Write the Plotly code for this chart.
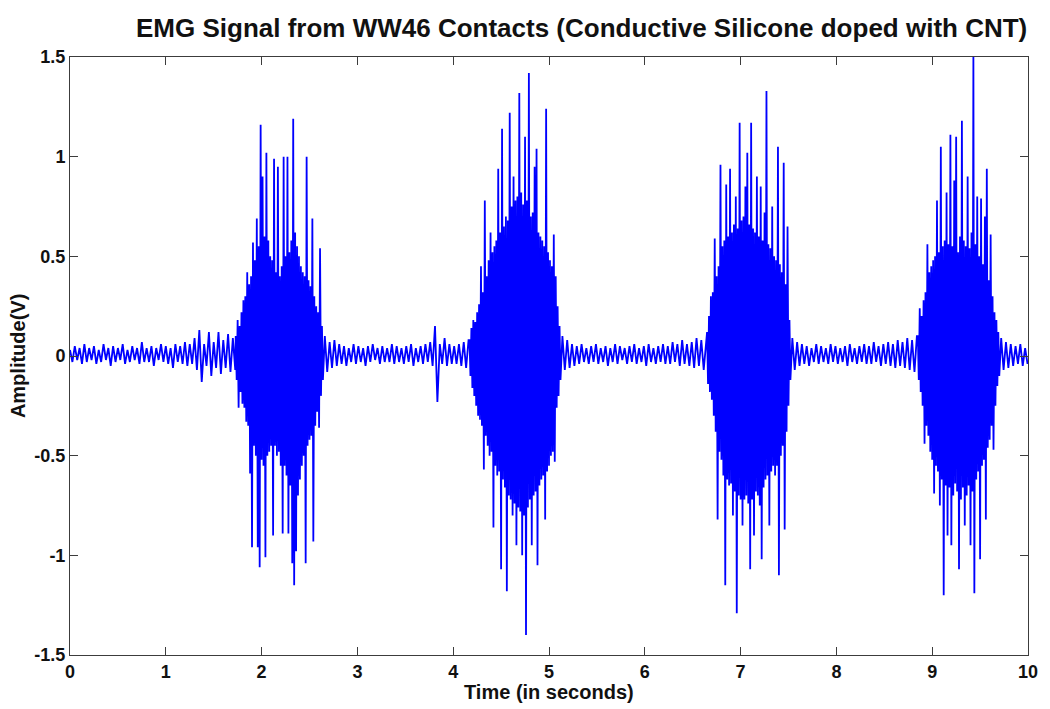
import numpy as np
import plotly.graph_objects as go

# ---------------- data ----------------
# Each segment: start time (s), sampling step (s), amplitude values (V)

base_0_start, base_0_step = 0.0, 0.025
base_0 = [
    0.03, -0.03, 0.05, -0.02, 0.04, -0.04, 0.06, -0.03, 0.04, -0.02,
    0.05, -0.04, 0.03, -0.03, 0.06, -0.02, 0.04, -0.05, 0.05, -0.03,
    0.04, -0.02, 0.06, -0.04, 0.03, -0.03, 0.05, -0.02, 0.04, -0.04,
    0.07, -0.03, 0.04, -0.03, 0.05, -0.05, 0.04, -0.02, 0.06, -0.03,
    0.05, -0.04, 0.04, -0.06, 0.06, -0.03, 0.05, -0.04, 0.07, -0.05,
    0.06, -0.04, 0.09, -0.07, 0.13, -0.13, 0.06, -0.05, 0.12, -0.10,
    0.07, -0.06, 0.12, -0.09, 0.08, -0.06, 0.11, -0.08, 0.09, -0.07,
]

burst_1_start, burst_1_step = 1.73, 0.01
burst_1 = [
    0.10, -0.12, 0.18, -0.26, 0.15, -0.18, 0.22, -0.24, 0.28, -0.26,
    0.30, -0.33, 0.42, -0.35, 0.36, -0.59, 0.40, -0.96, 0.57, -0.45,
    0.48, -0.50, 0.69, -0.96, 0.55, -1.06, 1.16, -0.52, 0.90, -0.55,
    0.60, -1.01, 1.02, -0.50, 0.58, -0.48, 0.50, -0.45, 0.48, -0.90,
    0.99, -0.45, 0.42, -0.50, 0.95, -0.48, 0.40, -0.55, 0.45, -0.89,
    1.00, -0.55, 0.50, -0.60, 1.00, -0.89, 0.52, -0.65, 0.58, -1.04,
    1.19, -1.15, 0.62, -0.98, 0.55, -0.70, 0.50, -0.62, 0.45, -0.55,
    0.42, -0.50, 0.40, -1.04, 1.00, -0.45, 0.38, -0.42, 0.35, -0.40,
    0.69, -0.93, 0.30, -0.35, 0.25, -0.28, 0.22, -0.36, 0.54, -0.20,
    0.15, -0.12,
]

base_1_start, base_1_step = 2.66, 0.025
base_1 = [
    0.10, -0.08, 0.07, -0.06, 0.08, -0.05, 0.06, -0.04, 0.05, -0.05,
    0.04, -0.03, 0.06, -0.04, 0.05, -0.03, 0.04, -0.05, 0.05, -0.03,
    0.06, -0.02, 0.04, -0.04, 0.05, -0.03, 0.04, -0.03, 0.06, -0.04,
    0.05, -0.03, 0.04, -0.04, 0.05, -0.03, 0.06, -0.05, 0.04, -0.03,
    0.05, -0.04, 0.06, -0.03, 0.07, -0.05, 0.15, -0.23, 0.06, -0.04,
    0.09, -0.05, 0.06, -0.04, 0.05, -0.04, 0.06, -0.05, 0.07, -0.06,
    0.08,
]

burst_2_start, burst_2_step = 4.17, 0.01
burst_2 = [
    0.08, -0.10, 0.14, -0.16, 0.18, -0.20, 0.17, -0.25, 0.22, -0.30,
    0.26, -0.32, 0.45, -0.35, 0.32, -0.57, 0.78, -0.40, 0.40, -0.45,
    0.48, -0.50, 0.62, -0.48, 0.52, -0.86, 0.55, -0.55, 0.58, -0.60,
    0.94, -0.58, 0.62, -1.07, 1.14, -0.62, 0.65, -0.66, 0.70, -1.18,
    0.68, -0.70, 1.22, -0.72, 0.75, -0.80, 0.90, -0.74, 0.78, -0.95,
    0.80, -0.76, 1.32, -0.78, 0.82, -1.00, 0.76, -0.80, 1.10, -1.40,
    0.78, -0.76, 1.42, -0.72, 0.70, -0.95, 0.72, -0.70, 0.95, -0.68,
    1.04, -1.05, 0.62, -0.65, 0.60, -0.62, 0.58, -0.60, 0.55, -0.82,
    1.24, -0.58, 0.52, -0.55, 0.48, -0.50, 0.45, -0.48, 0.61, -0.53,
    0.40, -0.26, 0.25, -0.20, 0.15, -0.12,
]

base_2_start, base_2_step = 5.14, 0.025
base_2 = [
    0.10, -0.07, 0.08, -0.06, 0.06, -0.05, 0.05, -0.04, 0.06, -0.03,
    0.04, -0.04, 0.05, -0.03, 0.06, -0.04, 0.04, -0.03, 0.05, -0.05,
    0.04, -0.03, 0.06, -0.04, 0.05, -0.02, 0.04, -0.04, 0.05, -0.03,
    0.06, -0.04, 0.04, -0.03, 0.05, -0.05, 0.06, -0.03, 0.04, -0.04,
    0.05, -0.03, 0.06, -0.04, 0.05, -0.04, 0.07, -0.03, 0.06, -0.05,
    0.08, -0.04, 0.06, -0.05, 0.07, -0.06, 0.09, -0.05, 0.08, -0.07,
    0.10,
]

burst_3_start, burst_3_step = 6.65, 0.01
burst_3 = [
    0.12, -0.14, 0.20, -0.18, 0.30, -0.22, 0.32, -0.30, 0.59, -0.38,
    0.40, -0.82, 0.45, -0.48, 0.96, -0.52, 0.55, -0.60, 0.58, -1.15,
    0.86, -0.62, 0.60, -0.65, 0.94, -0.64, 0.62, -0.80, 0.66, -0.68,
    0.80, -1.29, 0.64, -0.70, 1.17, -0.72, 0.68, -0.85, 0.70, -0.72,
    0.85, -0.70, 1.02, -0.74, 0.66, -1.07, 1.17, -0.72, 0.64, -0.90,
    0.62, -0.68, 0.90, -0.70, 0.60, -0.75, 0.85, -1.02, 0.58, -0.66,
    0.72, -0.62, 1.33, -0.60, 0.56, -0.85, 0.54, -0.58, 0.75, -0.55,
    0.50, -0.60, 0.48, -0.55, 1.05, -1.10, 0.46, -0.50, 0.42, -0.45,
    0.97, -0.87, 0.36, -0.38, 0.65, -0.25, 0.18, -0.12,
]

base_3_start, base_3_step = 7.54, 0.025
base_3 = [
    0.09, -0.07, 0.07, -0.05, 0.06, -0.04, 0.05, -0.05, 0.04, -0.03,
    0.06, -0.04, 0.05, -0.03, 0.04, -0.04, 0.06, -0.03, 0.05, -0.04,
    0.04, -0.03, 0.05, -0.05, 0.06, -0.03, 0.04, -0.04, 0.05, -0.03,
    0.06, -0.04, 0.05, -0.04, 0.07, -0.03, 0.05, -0.05, 0.06, -0.04,
    0.07, -0.05, 0.06, -0.06, 0.08, -0.05, 0.07, -0.06, 0.09, -0.07,
    0.08, -0.08, 0.10,
]

burst_4_start, burst_4_step = 8.85, 0.01
burst_4 = [
    0.10, -0.12, 0.24, -0.18, 0.20, -0.25, 0.28, -0.44, 0.32, -0.35,
    0.56, -0.40, 0.42, -0.48, 0.45, -0.52, 0.48, -0.69, 0.50, -0.55,
    0.78, -0.58, 0.52, -0.75, 1.05, -0.62, 0.55, -1.20, 0.58, -0.65,
    0.82, -0.90, 0.56, -0.66, 1.11, -0.95, 0.55, -0.70, 0.88, -0.64,
    1.10, -0.68, 0.52, -1.07, 0.60, -0.72, 1.18, -0.66, 0.58, -0.85,
    0.55, -0.70, 0.90, -0.65, 0.54, -0.95, 0.62, -0.68, 1.50, -1.19,
    0.56, -0.62, 0.80, -0.58, 0.50, -1.02, 0.79, -0.55, 0.46, -0.52,
    0.70, -0.82, 0.94, -0.46, 0.38, -0.42, 0.61, -0.35, 0.30, -0.47,
    0.22, -0.25, 0.18, -0.15, 0.12, -0.10,
]

base_4_start, base_4_step = 9.72, 0.025
base_4 = [0.09, -0.07, 0.07, -0.06, 0.06, -0.05, 0.05, -0.04, 0.06, -0.05, 0.04, -0.04]

x_tick_values = [0, 1, 2, 3, 4, 5, 6, 7, 8, 9, 10]
y_tick_values = [-1.5, -1.0, -0.5, 0.0, 0.5, 1.0, 1.5]
y_tick_labels = ["-1.5", "-1", "-0.5", "0", "0.5", "1", "1.5"]

# ---------------- assemble the sampled signal ----------------
segments = [
    (base_0_start, base_0_step, base_0),
    (burst_1_start, burst_1_step, burst_1),
    (base_1_start, base_1_step, base_1),
    (burst_2_start, burst_2_step, burst_2),
    (base_2_start, base_2_step, base_2),
    (burst_3_start, burst_3_step, burst_3),
    (base_3_start, base_3_step, base_3),
    (burst_4_start, burst_4_step, burst_4),
    (base_4_start, base_4_step, base_4),
]
time_s, amp_v = [], []
for start, step, vals in segments:
    for i, val in enumerate(vals):
        time_s.append(round(start + i * step, 4))
        amp_v.append(val)

FONT = "Liberation Sans, Arial, sans-serif"

fig = go.Figure(
    go.Scatter(
        x=time_s, y=amp_v, mode="lines",
        line=dict(color="#0000FF", width=1.8),
        hoverinfo="skip", showlegend=False,
    )
)

axis_common = dict(
    showgrid=False, zeroline=False, showline=True, linecolor="#3c3c3c", linewidth=1,
    mirror="ticks", ticks="inside", ticklen=8, tickcolor="#3c3c3c", tickwidth=1,
    tickfont=dict(family=FONT, size=18, color="#111111", weight="bold"),
)

fig.update_layout(
    width=1050, height=709,
    margin=dict(l=70, r=20, t=57, b=54),
    paper_bgcolor="white", plot_bgcolor="white",
    xaxis=dict(range=[0, 10], tickvals=x_tick_values, **axis_common),
    yaxis=dict(range=[-1.5, 1.5], tickvals=y_tick_values, ticktext=y_tick_labels, **axis_common),
    annotations=[
        dict(text="<b>EMG Signal from WW46 Contacts (Conductive Silicone doped with CNT)</b>",
             xref="paper", yref="paper", x=(583 - 70) / 960, y=1 + 29 / 598,
             xanchor="center", yanchor="middle",
             showarrow=False, font=dict(family=FONT, size=26, color="#111111")),
        dict(text="<b>Time (in seconds)</b>", xref="paper", yref="paper",
             x=0.5, y=-37 / 598, xanchor="center", yanchor="middle",
             showarrow=False, font=dict(family=FONT, size=20, color="#111111")),
        dict(text="<b>Amplitude(V)</b>", xref="paper", yref="paper", textangle=-90,
             x=-52 / 960, y=0.5, xanchor="center", yanchor="middle",
             showarrow=False, font=dict(family=FONT, size=20, color="#111111")),
    ],
)

fig.write_html("out.html")
